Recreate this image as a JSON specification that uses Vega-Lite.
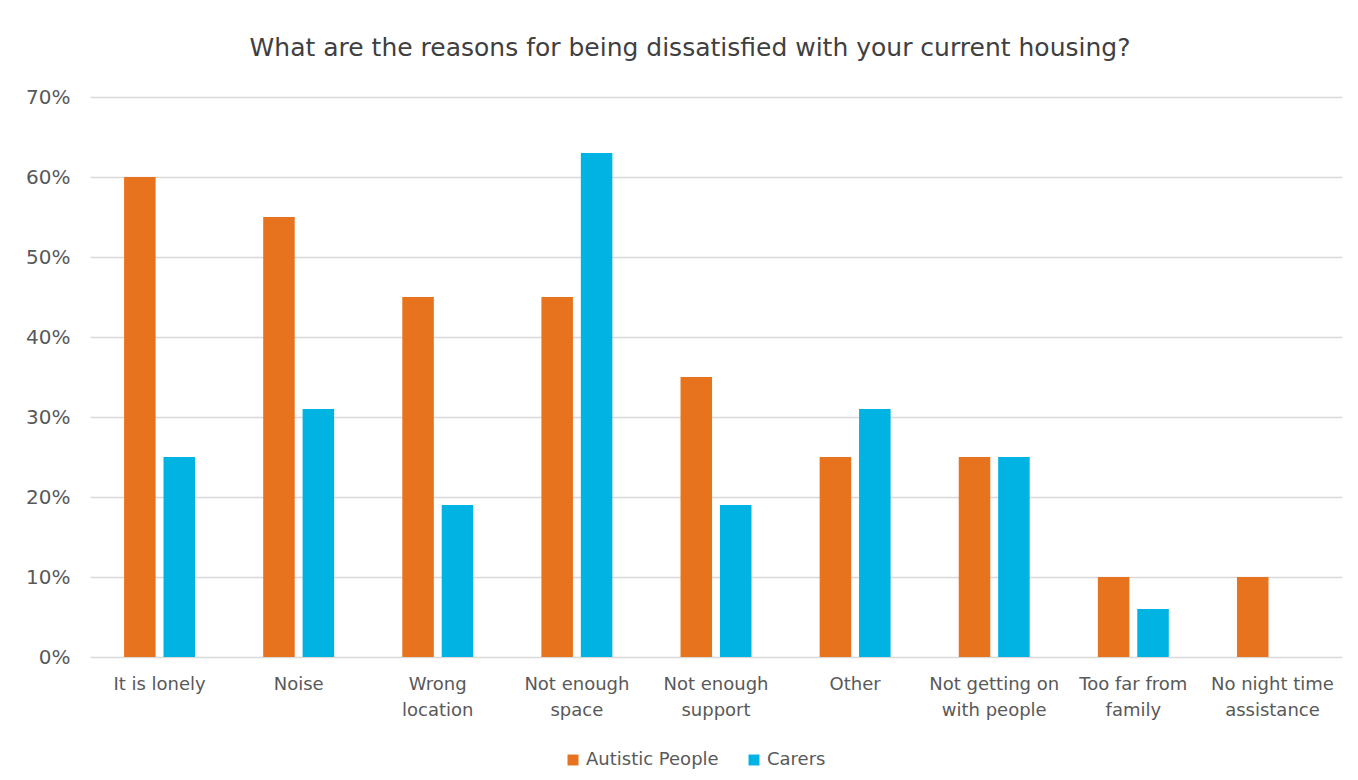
{
  "$schema": "https://vega.github.io/schema/vega-lite/v6.json",
  "autosize": {"type": "none"},
  "width": 1252,
  "height": 560,
  "padding": {"left": 90, "top": 97, "right": 16, "bottom": 123},
  "background": "white",
  "title": {
    "text": "What are the reasons for being dissatisfied with your current housing?",
    "fontSize": 25,
    "font": "DejaVu Sans",
    "fontWeight": "normal",
    "color": "#404040",
    "anchor": "middle",
    "dx": -26,
    "offset": 26
  },
  "data": {
    "values": [
      {"reason": "It is lonely", "group": "Autistic People", "pct": 60},
      {"reason": "It is lonely", "group": "Carers", "pct": 25},
      {"reason": "Noise", "group": "Autistic People", "pct": 55},
      {"reason": "Noise", "group": "Carers", "pct": 31},
      {"reason": "Wrong location", "group": "Autistic People", "pct": 45},
      {"reason": "Wrong location", "group": "Carers", "pct": 19},
      {"reason": "Not enough space", "group": "Autistic People", "pct": 45},
      {"reason": "Not enough space", "group": "Carers", "pct": 63},
      {"reason": "Not enough support", "group": "Autistic People", "pct": 35},
      {"reason": "Not enough support", "group": "Carers", "pct": 19},
      {"reason": "Other", "group": "Autistic People", "pct": 25},
      {"reason": "Other", "group": "Carers", "pct": 31},
      {"reason": "Not getting on with people", "group": "Autistic People", "pct": 25},
      {"reason": "Not getting on with people", "group": "Carers", "pct": 25},
      {"reason": "Too far from family", "group": "Autistic People", "pct": 10},
      {"reason": "Too far from family", "group": "Carers", "pct": 6},
      {"reason": "No night time assistance", "group": "Autistic People", "pct": 10}
    ]
  },
  "mark": {"type": "bar"},
  "encoding": {
    "x": {
      "field": "reason",
      "type": "nominal",
      "sort": null,
      "title": null,
      "scale": {"paddingInner": 0.49, "paddingOuter": 0.245},
      "axis": {
        "labelAngle": 0,
        "domain": false,
        "ticks": false,
        "labelPadding": 18,
        "labelFont": "DejaVu Sans",
        "labelFontSize": 18,
        "labelColor": "#595959",
        "labelLineHeight": 26,
        "labelBaseline": "top",
        "labelExpr": "datum.value == 'Wrong location' ? ['Wrong', 'location'] : datum.value == 'Not enough space' ? ['Not enough', 'space'] : datum.value == 'Not enough support' ? ['Not enough', 'support'] : datum.value == 'Not getting on with people' ? ['Not getting on', 'with people'] : datum.value == 'Too far from family' ? ['Too far from', 'family'] : datum.value == 'No night time assistance' ? ['No night time', 'assistance'] : datum.value"
      }
    },
    "xOffset": {
      "field": "group",
      "type": "nominal",
      "sort": ["Autistic People", "Carers"],
      "scale": {"domain": ["Autistic People", "Carers"], "paddingInner": 0.2, "paddingOuter": 0}
    },
    "y": {
      "field": "pct",
      "type": "quantitative",
      "title": null,
      "scale": {"domain": [0, 70]},
      "axis": {
        "values": [0, 10, 20, 30, 40, 50, 60, 70],
        "labelExpr": "datum.value + '%'",
        "domain": false,
        "ticks": false,
        "labelPadding": 20,
        "labelFont": "DejaVu Sans",
        "labelFontSize": 20,
        "labelColor": "#595959",
        "gridColor": "#d9d9d9",
        "gridWidth": 1.5
      }
    },
    "color": {
      "field": "group",
      "type": "nominal",
      "sort": ["Autistic People", "Carers"],
      "scale": {"domain": ["Autistic People", "Carers"], "range": ["#E8731E", "#00B3E3"]},
      "legend": {
        "title": null,
        "orient": "none",
        "direction": "horizontal",
        "legendX": 474,
        "legendY": 654,
        "symbolType": "square",
        "symbolSize": 120,
        "symbolStrokeWidth": 0,
        "labelFont": "DejaVu Sans",
        "labelFontSize": 18,
        "labelColor": "#595959",
        "labelOffset": 4,
        "columnPadding": 26
      }
    }
  },
  "config": {"view": {"stroke": null}}
}
